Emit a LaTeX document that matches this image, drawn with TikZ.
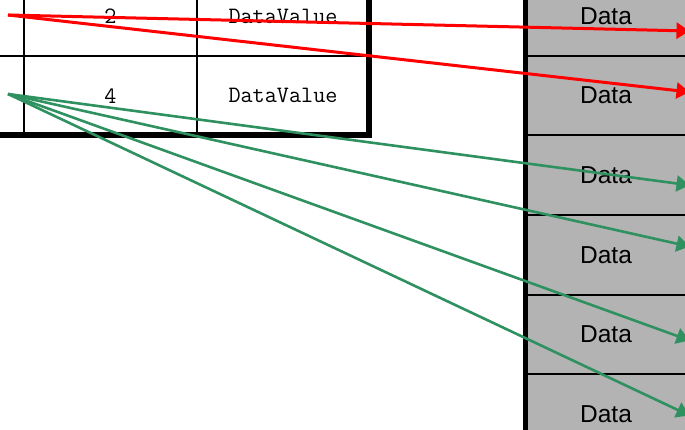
\documentclass[tikz,border=0pt]{standalone}
\usepackage{fontspec}
\newfontfamily\datafont{Liberation Sans}
\usetikzlibrary{arrows.meta,calc,positioning}
\definecolor{cellgrey}{RGB}{179,179,179}
\definecolor{seagreen}{RGB}{46,145,95}

\begin{document}
\begin{tikzpicture}[x=1pt,y=-1pt]

\tikzset{cell/.style={draw=black,line width=2pt,inner sep=0pt,outer sep=0pt,minimum height=79.5pt},
valtext/.style={font=\ttfamily\fontsize{23.5}{23.5}\selectfont},
datacell/.style={cell,fill=cellgrey,minimum width=161pt,minimum height=79.6pt,font=\datafont\fontsize{24.5}{24.5}\selectfont},
ptr/.style={line width=2.6pt,-{Triangle[length=13pt,width=16pt]}}}

\useasboundingbox (0,0) rectangle (685,430);
\clip (0,0) rectangle (685,430);

% Table
\foreach \i/\k/\y in {1/2/16.25, 2/4/95.75} {
  \node[cell,minimum width=124pt] (l\i) at (-38,\y) {};
  \node[cell,minimum width=173pt,valtext] (k\i) at (110.5,\y) {\k};
  \node[cell,minimum width=172pt,valtext] (v\i) at (283,\y) {DataValue};
}
\draw[line width=6pt] (v1.north east) -- (v2.south east) -- (l2.south west);

% Data column
\foreach \i in {1,...,6} \node[datacell] (d\i) at (606,{16+79.6*(\i-1)}) {Data};
\draw[line width=5.5pt] (d1.north west) -- (d6.south west);

% Pointers
\coordinate (redsrc) at (8,15);
\coordinate (greensrc) at (8,94);
\draw[ptr,red,line width=3pt] (redsrc) -- ([xshift=3pt,yshift=-15pt]d1.east);
\draw[ptr,red,line width=3pt] (redsrc) -- ([xshift=3pt,yshift=3.6pt]d2.east);
\draw[ptr,seagreen] (greensrc) -- ([xshift=3pt,yshift=-10pt]d3.east);
\draw[ptr,seagreen] (greensrc) -- ([xshift=3pt,yshift=8.3pt]d4.east);
\draw[ptr,seagreen] (greensrc) -- ([xshift=3pt,yshift=-6pt]d5.east);
\draw[ptr,seagreen] (greensrc) -- ([xshift=3pt,yshift=-1.5pt]d6.east);

\end{tikzpicture}
\end{document}
